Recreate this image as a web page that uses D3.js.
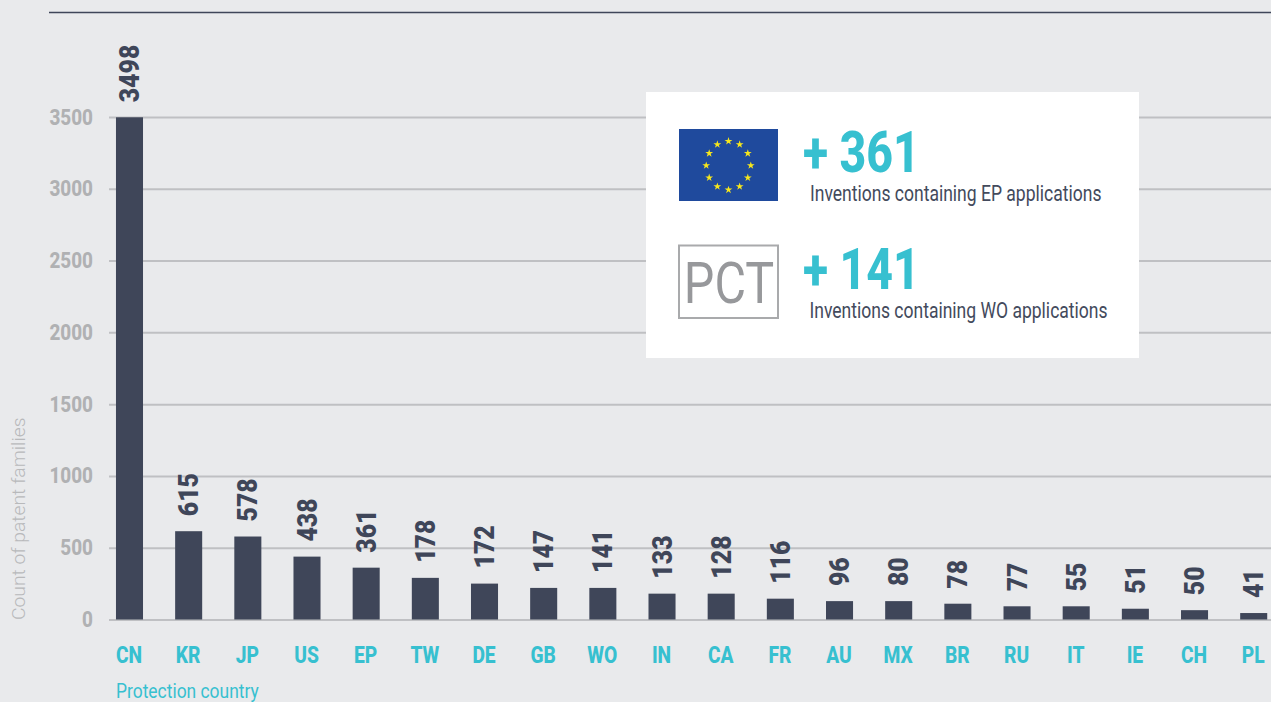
<!DOCTYPE html>
<html><head><meta charset="utf-8">
<script src="https://cdn.jsdelivr.net/npm/d3@7"></script>
<style>html,body{margin:0;padding:0;background:#e9eaec;overflow:hidden}svg{display:block}text{font-family:Roboto,sans-serif}</style>
</head><body><svg id="c" width="1271" height="702"></svg>
<script>
const categories=["CN","KR","JP","US","EP","TW","DE","GB","WO","IN","CA","FR","AU","MX","BR","RU","IT","IE","CH","PL"];
const barValues=[3498,615,578,438,361,290,250,220,220,180,180,145,128,128,110,92,92,75,65,45];
const barLabels=["3498","615","578","438","361","178","172","147","141","133","128","116","96","80","78","77","55","51","50","41"];
const yTicks=[0,500,1000,1500,2000,2500,3000,3500];
const callouts=[{big:"+ 361",caption:"Inventions containing EP applications"},{big:"+ 141",caption:"Inventions containing WO applications"}];
const yTitle="Count of patent families", xTitle="Protection country";
const dark="#3f4659",teal="#37c0d0",grey="#b0b1b3";
const svg=d3.select("#c");
const W=1271,H=702;
svg.append("rect").attr("width",W).attr("height",H).attr("fill","#e9eaec");
svg.append("line").attr("x1",49).attr("x2",W).attr("y1",12.5).attr("y2",12.5).attr("stroke",dark).attr("stroke-width",1.5);
const x=d3.scaleBand().domain(categories).range([100,1283.2]).paddingInner(0.543).paddingOuter(0.27);
const y=d3.scaleLinear().domain([0,3500]).range([619.5,117]);
const sq=(sel,px,py,sx,rot)=>sel.attr("x",0).attr("y",0).attr("transform",`translate(${px},${py})${rot?` rotate(${rot})`:""} scale(${sx},1)`);
const axis=svg.append("g").attr("transform","translate(0,0)").call(d3.axisLeft(y).tickValues(yTicks).tickSize(0).tickFormat(d3.format("d")));
axis.select(".domain").remove();
axis.selectAll(".tick line").attr("x1",109).attr("x2",W).attr("stroke","#bfc0c3").attr("stroke-width",2);
axis.selectAll(".tick text").attr("dy",null).attr("fill",grey).attr("font-size",22).attr("font-weight",800).attr("font-family","Roboto")
  .attr("text-anchor","end").attr("x",0).attr("y",0).attr("transform","translate(93,7) scale(0.86,1)");
svg.selectAll(".bar").data(categories).join("rect").attr("class","bar")
  .attr("x",d=>x(d)).attr("width",x.bandwidth()).attr("y",(d,i)=>y(barValues[i])).attr("height",(d,i)=>y(0)-y(barValues[i])).attr("fill",dark);
svg.selectAll(".val").data(categories).join("text").attr("class","val").text((d,i)=>barLabels[i])
  .attr("fill",dark).attr("font-size",27).attr("font-weight",900)
  .each(function(d,i){sq(d3.select(this),x(d)+x.bandwidth()/2+9.5,y(barValues[i])-15,0.92,-90);});
svg.selectAll(".cat").data(categories).join("text").attr("class","cat").text(d=>d)
  .attr("fill",teal).attr("font-size",24).attr("font-weight",800).attr("text-anchor","middle")
  .each(function(d){sq(d3.select(this),x(d)+x.bandwidth()/2-0.5,663,0.8);});
sq(svg.append("text").text(xTitle).attr("fill",teal).attr("font-size",21),116,697.5,0.83);
sq(svg.append("text").text(yTitle).attr("fill","#b8b9bb").attr("font-size",19).attr("font-weight",300),25,620,1.015,-90);
// panel
const p=svg.append("g");
p.append("rect").attr("x",646).attr("y",92).attr("width",493).attr("height",266).attr("fill","#fff");
p.append("rect").attr("x",679).attr("y",129).attr("width",99).attr("height",72).attr("fill","#1f4a9d");
const stars=d3.range(12);
p.selectAll(".star").data(stars).join("path").attr("class","star")
  .attr("d",d3.symbol(d3.symbolStar,19)).attr("fill","#f7e71c")
  .attr("transform",d=>{const a=d/12*2*Math.PI;return `translate(${728.5+22.3*Math.sin(a)},${165.5-24.3*Math.cos(a)})`;});
p.append("rect").attr("x",679).attr("y",245.5).attr("width",99).attr("height",72.5).attr("fill","none").attr("stroke","#a9aaac").attr("stroke-width",2);
sq(p.append("text").text("PCT").attr("fill","#97989b").attr("font-size",57).attr("font-weight",400).attr("text-anchor","middle"),729,302.5,0.85);
const rows=[172,289],capY=[201,318],capX=[810,809.5];
callouts.forEach((c,i)=>{
  sq(p.append("text").text(c.big).attr("fill",teal).attr("font-size",58).attr("font-weight",800),803,rows[i],0.8);
  sq(p.append("text").text(c.caption).attr("fill","#434a5c").attr("font-size",22),capX[i],capY[i],0.797);
});
</script></body></html>
